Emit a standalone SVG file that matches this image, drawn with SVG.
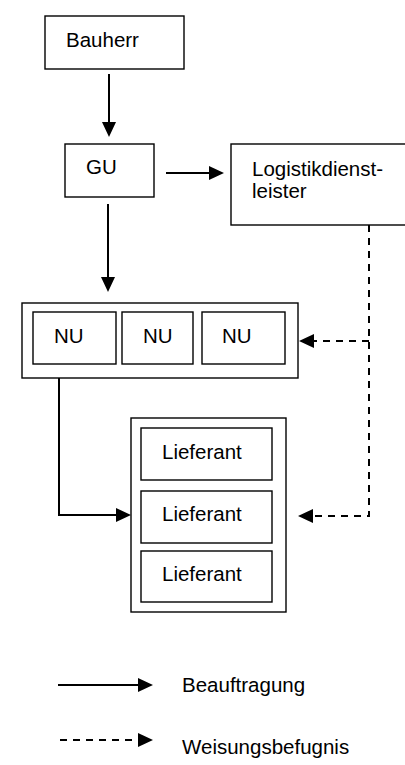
<svg xmlns="http://www.w3.org/2000/svg" width="405" height="765" viewBox="0 0 405 765">
<style>
.box{fill:#fff;stroke:#000;stroke-width:1.4}
.t{font-family:"Liberation Sans",Arial,sans-serif;font-size:20.5px;fill:#000}
.c{fill:none;stroke:#000;stroke-width:2}
.d{stroke-dasharray:7 6}
</style>
<defs>
<marker id="ah" markerUnits="userSpaceOnUse" viewBox="0 0 15 14" refX="10" refY="7" markerWidth="15" markerHeight="14" orient="auto">
<path d="M0 0 L15 7 L0 14 Z" fill="#000"/>
</marker>
</defs>
<rect width="405" height="765" fill="#fff"/>
<g id="bauherr">
<rect class="box" x="45" y="16" width="139" height="53"/>
<text class="t" x="66" y="47">Bauherr</text>
</g>
<g id="gu">
<rect class="box" x="65" y="144" width="89" height="53"/>
<text class="t" x="86" y="174">GU</text>
</g>
<g id="logistik">
<rect class="box" x="231" y="144" width="180" height="81"/>
<text class="t" x="252" y="176">Logistikdienst-</text>
<text class="t" x="252" y="198">leister</text>
</g>
<g id="nu-gruppe">
<rect class="box" x="22" y="303" width="276" height="75"/>
<g id="nu1"><rect class="box" x="33" y="312" width="83" height="52"/><text class="t" x="54" y="343">NU</text></g>
<g id="nu2"><rect class="box" x="122" y="312" width="71" height="52"/><text class="t" x="143" y="343">NU</text></g>
<g id="nu3"><rect class="box" x="202" y="312" width="83" height="52"/><text class="t" x="222" y="343">NU</text></g>
</g>
<g id="lieferant-gruppe">
<rect class="box" x="131" y="418" width="155" height="194"/>
<g id="lief1"><rect class="box" x="141" y="428" width="131" height="52"/><text class="t" x="162" y="459">Lieferant</text></g>
<g id="lief2"><rect class="box" x="141" y="491" width="131" height="52"/><text class="t" x="162" y="521">Lieferant</text></g>
<g id="lief3"><rect class="box" x="141" y="551" width="131" height="51"/><text class="t" x="162" y="581">Lieferant</text></g>
</g>
<g id="connectors">
<path class="c" d="M109 74 V132" marker-end="url(#ah)"/>
<path class="c" d="M108 204 V287" marker-end="url(#ah)"/>
<path class="c" d="M166 173 H219" marker-end="url(#ah)"/>
<path class="c" d="M59 378 V515 H126" marker-end="url(#ah)"/>
<path class="c d" d="M369 225 V516 H303" marker-end="url(#ah)"/>
<path class="c d" d="M369 341 H304" marker-end="url(#ah)"/>
</g>
<g id="legende">
<path class="c" d="M58 685 H148" marker-end="url(#ah)"/>
<text class="t" x="182" y="692">Beauftragung</text>
<path class="c d" d="M60 740 H148" marker-end="url(#ah)"/>
<text class="t" x="182" y="754">Weisungsbefugnis</text>
</g>
</svg>
